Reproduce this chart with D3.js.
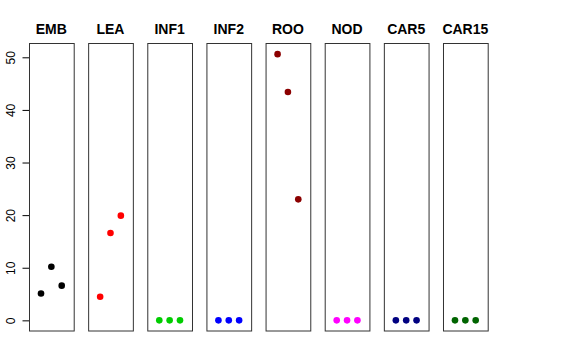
<!DOCTYPE html>
<html>
<head>
<meta charset="utf-8">
<script src="https://cdn.jsdelivr.net/npm/d3@7"></script>
<style>
  body { margin: 0; background: #fff; }
  svg { display: block; font-family: "Liberation Sans", Arial, sans-serif; }
</style>
</head>
<body>
<div id="chart"></div>
<script>
// panel names, colours and the three values in each panel
const panels = ['EMB', 'LEA', 'INF1', 'INF2', 'ROO', 'NOD', 'CAR5', 'CAR15'];
const colors = ['#000000', '#FF0000', '#00CD00', '#0000FF', '#8B0000', '#FF00FF', '#000080', '#006400'];
const EMB = [5.1, 10.2, 6.6];
const LEA = [4.5, 16.6, 19.9];
const INF1 = [0, 0, 0];
const INF2 = [0, 0, 0];
const ROO = [50.6, 43.4, 23.0];
const NOD = [0, 0, 0];
const CAR5 = [0, 0, 0];
const CAR15 = [0, 0, 0];
const seriesValues = [EMB, LEA, INF1, INF2, ROO, NOD, CAR5, CAR15];
const yTicks = [0, 10, 20, 30, 40, 50];

const svgWidth = 576, svgHeight = 360;
const plotTop = 43.5, plotBottom = 331;

const svg = d3.select('#chart').append('svg')
  .attr('width', svgWidth)
  .attr('height', svgHeight);

// R style ranges: 4% padding on each side
const yMax = d3.max(seriesValues.flat());
const yPad = yMax * 0.04;
const yScale = d3.scaleLinear().domain([-yPad, yMax + yPad]).range([plotBottom, plotTop]);

const xPanel = d3.scaleBand().domain(panels).range([29, 487.7]).paddingInner(0.244).paddingOuter(0);
const xInner = d3.scaleLinear().domain([-0.16, 4.16]).range([0, xPanel.bandwidth()]);

// y axis on left edge of first panel
const yAxis = d3.axisLeft(yScale).tickValues(yTicks).tickSize(7).tickFormat(d3.format('d'));
const axisG = svg.append('g')
  .attr('transform', `translate(${xPanel(panels[0]) + 0.5}, 0)`)
  .call(yAxis);
axisG.select('.domain').remove();
axisG.selectAll('.tick line').attr('stroke', '#000');
axisG.selectAll('.tick text')
  .attr('x', null).attr('dy', null)
  .attr('transform', 'translate(-14.5, 0) rotate(-90)')
  .attr('text-anchor', 'middle')
  .attr('font-size', '12px')
  .attr('font-family', '"Liberation Sans", Arial, sans-serif')
  .attr('fill', '#000');
axisG.append('line')
  .attr('x1', 0).attr('x2', 0)
  .attr('y1', yScale(0)).attr('y2', yScale(50))
  .attr('stroke', '#000');

panels.forEach((name, i) => {
  const g = svg.append('g').attr('transform', `translate(${xPanel(name)}, 0)`);

  g.append('rect')
    .attr('x', 0.5)
    .attr('y', plotTop)
    .attr('width', xPanel.bandwidth())
    .attr('height', plotBottom - plotTop)
    .attr('fill', 'none')
    .attr('stroke', '#333')
    .attr('stroke-width', 1);

  g.append('text')
    .attr('x', xPanel.bandwidth() / 2)
    .attr('y', 33.5)
    .attr('text-anchor', 'middle')
    .attr('font-size', '14px')
    .attr('font-weight', 'bold')
    .text(name);

  g.selectAll('circle')
    .data(seriesValues[i])
    .enter()
    .append('circle')
    .attr('cx', (d, j) => xInner(j + 1))
    .attr('cy', d => yScale(d))
    .attr('r', 3.3)
    .attr('fill', colors[i]);
});
</script>
</body>
</html>
